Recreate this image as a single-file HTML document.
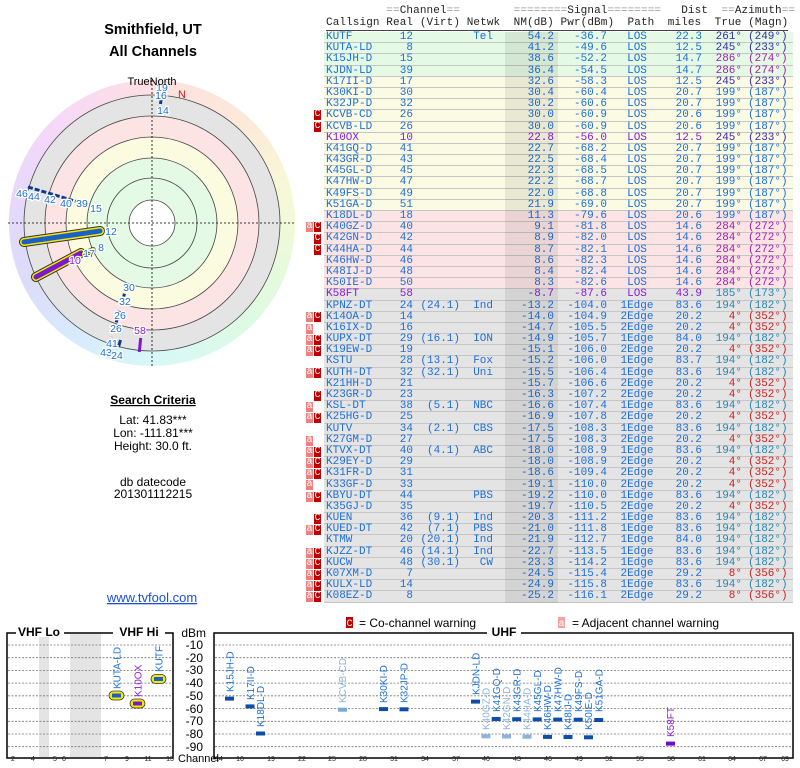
<!DOCTYPE html>
<html><head><meta charset="utf-8"><style>
*{margin:0;padding:0}
body{width:800px;height:768px;position:relative;background:#fff;overflow:hidden;font-family:"Liberation Sans",sans-serif}
#ring{position:absolute;left:9px;top:80px;width:286px;height:286px;border-radius:50%;
background:conic-gradient(#fde0e0 0deg,#fde8da 40deg,#f8f8d8 75deg,#e6fadc 110deg,#dcfae6 145deg,#d8f8f8 180deg,#d8ecfd 210deg,#dcdcfa 245deg,#e6d8fa 280deg,#f4d8fa 310deg,#fadcec 340deg,#fde0e0 360deg)}
svg{position:absolute;left:0;top:0}
.tbl{position:absolute;left:324px;top:32px;width:469px;font-family:"Liberation Mono",monospace;font-size:11px;color:#1c6fd8}
.row{position:relative;height:11.2px;box-sizing:border-box;border-bottom:1px solid #c6c6c6;line-height:10.5px;white-space:pre}
.row span{position:absolute;top:0}
.row span:nth-child(1){left:2px}
.row span:nth-child(2){left:60px;width:29px;text-align:right}
.row span:nth-child(3){left:94px;width:42px;text-align:right}
.row span:nth-child(4){left:140px;width:29px;text-align:right}
.row span:nth-child(5){left:188px;width:42px;text-align:right}
.row span:nth-child(6){left:234px;width:49px;text-align:right}
.row span:nth-child(7){left:295px;width:36px;text-align:center}
.row span:nth-child(8){left:342px;width:36px;text-align:right}
.row span:nth-child(9){left:389px;width:29px;text-align:right}
.row span:nth-child(10){left:424px}
.G{background:#e4fae4}.Y{background:#fbfbe4}.P{background:#fde4e4}.R{background:#e4e4e4}
.pur{color:#8a1ad8}
.db span:nth-child(9),.db span:nth-child(10){color:#3a2aa8}
.mg span:nth-child(9),.mg span:nth-child(10){color:#a020b0}
.tl span:nth-child(9),.tl span:nth-child(10){color:#2a86b0}
.rd span:nth-child(9),.rd span:nth-child(10){color:#d02020}
.hdr{position:absolute;left:326px;font-family:"Liberation Mono",monospace;font-size:11px;white-space:pre;color:#222;letter-spacing:0.1px}
.hdr .q{color:#999}
#shade{position:absolute;left:505px;top:32px;width:53px;height:571px;background:rgba(0,0,0,0.075)}
.mk{position:absolute;width:7px;height:10px;color:#fff;font-family:"Liberation Mono",monospace;font-size:10px;line-height:10px;text-align:center}
.ma{background:#f08080;left:306px}.mc{background:#c00000;left:314px}
</style></head><body>
<div id="ring"></div>
<svg width="800" height="768" font-family="Liberation Sans, sans-serif">
<g stroke="#444" stroke-width="0.8">
<circle cx="152" cy="223" r="128" fill="#e4e4e4"/>
<circle cx="152" cy="223" r="107" fill="#fde4e4"/>
<circle cx="152" cy="223" r="86" fill="#fbfbe0"/>
<circle cx="152" cy="223" r="65" fill="#e4fae4"/>
<circle cx="152" cy="223" r="45" fill="#e4fae4"/>
<circle cx="152" cy="223" r="23" fill="#fff"/>
</g>
<g stroke="#000" stroke-width="0.8" stroke-dasharray="2,2">
<line x1="8" y1="223" x2="296" y2="223"/><line x1="152" y1="80" x2="152" y2="368"/>
</g>
<g stroke-linecap="round">
<line x1="100" y1="231" x2="24" y2="242" stroke="#333" stroke-width="10"/>
<line x1="100" y1="231" x2="24" y2="242" stroke="#f5e800" stroke-width="8"/>
<line x1="100" y1="231" x2="24" y2="242" stroke="#1a60c8" stroke-width="5"/>
<line x1="81" y1="253" x2="36" y2="277" stroke="#333" stroke-width="10"/>
<line x1="81" y1="253" x2="36" y2="277" stroke="#f5e800" stroke-width="8"/>
<line x1="81" y1="253" x2="36" y2="277" stroke="#7a1ad0" stroke-width="5"/>
<line x1="84" y1="254" x2="93" y2="250" stroke="#333" stroke-width="6"/>
<line x1="84" y1="254" x2="93" y2="250" stroke="#f5e800" stroke-width="4.5"/>
<line x1="84" y1="254" x2="93" y2="250" stroke="#1a60c8" stroke-width="2"/>
</g>
<line x1="28" y1="187" x2="78" y2="202" stroke="#0a3a90" stroke-width="3" stroke-dasharray="5,2"/>
<line x1="127" y1="285" x2="112" y2="337" stroke="#0a3a90" stroke-width="3" stroke-dasharray="3,6"/>
<line x1="120.5" y1="340" x2="118.5" y2="347" stroke="#0a3a90" stroke-width="3"/>
<line x1="140.7" y1="338" x2="139.3" y2="352" stroke="#7a1ad0" stroke-width="3"/>
<line x1="161" y1="100" x2="160.5" y2="104" stroke="#0a3a90" stroke-width="3"/>
<g font-size="10.5" fill="#1c6fd8" text-anchor="middle" stroke="#fff" stroke-width="2.5" paint-order="stroke">
<text x="22" y="197">46</text><text x="34" y="200">44</text><text x="50" y="203">42</text><text x="66" y="207">40</text><text x="82" y="207">39</text><text x="96" y="212">15</text>
<text x="111" y="235">12</text><text x="101" y="251">8</text><text x="89" y="257">17</text>
<text x="129" y="291">30</text><text x="125" y="305">32</text><text x="120" y="319">26</text><text x="116" y="332">26</text><text x="112" y="347">41</text><text x="106" y="356">43</text><text x="117" y="359">24</text>
<text x="162" y="91">19</text><text x="161" y="99">16</text><text x="163" y="114">14</text>
<text x="75" y="264" fill="#8a1ad8">10</text><text x="140" y="334" fill="#8a1ad8">58</text>
</g>
<text x="182" y="98" font-size="11" fill="#d02020" text-anchor="middle">N</text>
<text x="153" y="34" font-size="14.5" font-weight="bold" text-anchor="middle">Smithfield, UT</text>
<text x="153" y="56" font-size="14.5" font-weight="bold" text-anchor="middle">All Channels</text>
<text x="152" y="85" font-size="11" text-anchor="middle">TrueNorth</text>
<text x="153" y="404" font-size="12" font-weight="bold" text-anchor="middle" text-decoration="underline">Search Criteria</text>
<text x="153" y="424" font-size="12" text-anchor="middle">Lat: 41.83***</text>
<text x="153" y="437" font-size="12" text-anchor="middle">Lon: -111.81***</text>
<text x="153" y="450" font-size="12" text-anchor="middle">Height: 30.0 ft.</text>
<text x="153" y="486" font-size="12" text-anchor="middle">db datecode</text>
<text x="153" y="498" font-size="12" text-anchor="middle">201301112215</text>
<text x="152" y="602" font-size="13" fill="#1c4fd8" text-anchor="middle" text-decoration="underline">www.tvfool.com</text>
<rect x="39" y="634" width="10" height="123" fill="#e4e4e4"/>
<rect x="70" y="634" width="31" height="123" fill="#e4e4e4"/>
<g stroke="#777" stroke-width="0.8" stroke-dasharray="2,1.5">
<path d="M8 645H172M8 657.7H172M8 670.4H172M8 683.1H172M8 695.8H172M8 708.6H172M8 721.3H172M8 734H172M8 746.7H172"/>
<path d="M215 645H792M215 657.7H792M215 670.4H792M215 683.1H792M215 695.8H792M215 708.6H792M215 721.3H792M215 734H792M215 746.7H792"/>
</g>
<g fill="none" stroke="#000" stroke-width="1.5">
<rect x="7" y="633" width="166" height="125"/>
<rect x="214" y="633" width="579" height="125"/>
</g>
<g font-size="12" font-weight="bold" text-anchor="middle">
<rect x="16" y="625" width="48" height="12" fill="#fff"/><text x="39" y="636">VHF Lo</text>
<rect x="113" y="625" width="52" height="12" fill="#fff"/><text x="139" y="636">VHF Hi</text>
<rect x="487" y="625" width="34" height="12" fill="#fff"/><text x="504" y="636">UHF</text>
</g>
<g font-size="12" text-anchor="end">
<text x="206" y="637">dBm</text>
<text x="203" y="649">-10</text><text x="203" y="662">-20</text><text x="203" y="674">-30</text><text x="203" y="687">-40</text><text x="203" y="700">-50</text><text x="203" y="713">-60</text><text x="203" y="725">-70</text><text x="203" y="738">-80</text><text x="203" y="751">-90</text>
</g>
<text x="178" y="762" font-size="11">Channel</text>
<g font-size="7" text-anchor="middle" fill="#222">
<text x="13" y="761">2</text><text x="33" y="761">4</text><text x="55" y="761">5</text><text x="64" y="761">6</text><text x="106" y="761">7</text><text x="127" y="761">9</text><text x="148" y="761">11</text><text x="170" y="761">13</text>
<text x="219" y="761">14</text><text x="240" y="761">16</text><text x="271" y="761">19</text><text x="302" y="761">22</text><text x="332" y="761">25</text><text x="363" y="761">28</text><text x="394" y="761">31</text><text x="425" y="761">34</text><text x="456" y="761">37</text><text x="486" y="761">40</text><text x="517" y="761">43</text><text x="548" y="761">46</text><text x="579" y="761">49</text><text x="609" y="761">52</text><text x="640" y="761">55</text><text x="671" y="761">58</text><text x="702" y="761">61</text><text x="732" y="761">64</text><text x="763" y="761">67</text><text x="785" y="761">69</text>
</g>
<rect x="346" y="617" width="7" height="11" fill="#c00000"/><text x="349.5" y="626" font-size="10" fill="#fff" text-anchor="middle" font-family="Liberation Mono">C</text>
<text x="359" y="627" font-size="12">= Co-channel warning</text>
<rect x="558" y="617" width="7" height="11" fill="#f4a0a0"/><text x="561.5" y="626" font-size="10" fill="#fff" text-anchor="middle" font-family="Liberation Mono">a</text>
<text x="572" y="627" font-size="12">= Adjacent channel warning</text>
<g stroke="#333" stroke-width="0.8">
<rect x="109" y="691" width="15" height="9" rx="4.5" fill="#f5e800"/><rect x="112" y="693.5" width="9" height="4" fill="#1a60c8" stroke="none"/>
<rect x="130" y="699" width="15" height="9" rx="4.5" fill="#f5e800"/><rect x="133" y="701.5" width="9" height="4" fill="#7a1ad0" stroke="none"/>
<rect x="151" y="674.5" width="15" height="9" rx="4.5" fill="#f5e800"/><rect x="154" y="677" width="9" height="4" fill="#1a60c8" stroke="none"/>
</g>
<g font-size="10" fill="#1c6fd8">
<text transform="translate(120.5,689) rotate(-90)">KUTA-LD</text>
<text transform="translate(141.5,697) rotate(-90)" fill="#8a1ad8">K10OX</text>
<text transform="translate(162.5,672) rotate(-90)">KUTF</text>
</g>
<g fill="#0d4fa8">
<rect x="225" y="696.6" width="9" height="4"/><rect x="245.5" y="704.4" width="9" height="4"/><rect x="256" y="731.5" width="9" height="4"/>
<rect x="338" y="707.7" width="9" height="4" fill="#7aa8d4"/><rect x="379" y="707.1" width="9" height="4"/><rect x="399.5" y="707.3" width="9" height="4"/>
<rect x="471" y="699.6" width="9" height="4"/><rect x="481.5" y="734.3" width="9" height="4" fill="#8ab4dc"/><rect x="491.7" y="717" width="9" height="4"/>
<rect x="502" y="734.5" width="9" height="4" fill="#8ab4dc"/><rect x="512.2" y="717.2" width="9" height="4"/><rect x="522.5" y="734.7" width="9" height="4" fill="#8ab4dc"/>
<rect x="532.7" y="717.4" width="9" height="4"/><rect x="543" y="734.9" width="9" height="4"/><rect x="553.2" y="717.6" width="9" height="4"/>
<rect x="563.5" y="735" width="9" height="4"/><rect x="573.7" y="717.7" width="9" height="4"/><rect x="584" y="735.3" width="9" height="4"/>
<rect x="594.2" y="718" width="9" height="4"/><rect x="666" y="741.6" width="9" height="4" fill="#6a10c8"/>
</g>
<g font-size="10" fill="#1c6fd8">
<text transform="translate(233.3,692) rotate(-90)">K15JH-D</text>
<text transform="translate(253.8,700) rotate(-90)">K17II-D</text>
<text transform="translate(264,727) rotate(-90)">K18DL-D</text>
<text transform="translate(346,703) rotate(-90)" fill="#8ab4dc">KCVB-CD</text>
<text transform="translate(387,703) rotate(-90)">K30KI-D</text>
<text transform="translate(407.5,703) rotate(-90)">K32JP-D</text>
<text transform="translate(479.3,695) rotate(-90)">KJDN-LD</text>
<text transform="translate(489.5,730) rotate(-90)" fill="#8ab4dc">K40GZ-D</text>
<text transform="translate(499.8,712) rotate(-90)">K41GQ-D</text>
<text transform="translate(510,730) rotate(-90)" fill="#8ab4dc">K42GN-D</text>
<text transform="translate(520.3,712) rotate(-90)">K43GR-D</text>
<text transform="translate(530.5,730) rotate(-90)" fill="#8ab4dc">K44HA-D</text>
<text transform="translate(540.8,712) rotate(-90)">K45GL-D</text>
<text transform="translate(551,730) rotate(-90)">K46HW-D</text>
<text transform="translate(561.3,712) rotate(-90)">K47HW-D</text>
<text transform="translate(571.5,730) rotate(-90)">K48IJ-D</text>
<text transform="translate(581.8,712) rotate(-90)">K49FS-D</text>
<text transform="translate(592,730) rotate(-90)">K50IE-D</text>
<text transform="translate(602.3,712) rotate(-90)">K51GA-D</text>
<text transform="translate(674,737) rotate(-90)" fill="#8a1ad8">K58FT</text>
</g>
</svg>

<div class="hdr" style="top:5px"><span class="q">         ==</span>Channel<span class="q">==        ========</span>Signal<span class="q">========</span>   Dist  <span class="q">==</span>Azimuth<span class="q">==</span></div>
<div class="hdr" style="top:17px;border-bottom:1px solid #444;padding-bottom:1px">Callsign Real (Virt) Netwk  NM(dB) Pwr(dBm)  Path  miles  True (Magn)</div>

<div class="tbl">
<div class="row G db"><span>KUTF</span><span>12</span><span></span><span>Tel</span><span>54.2</span><span>-36.7</span><span>LOS</span><span>22.3</span><span>261°</span><span>(249°)</span></div>
<div class="row G db"><span>KUTA-LD</span><span>8</span><span></span><span></span><span>41.2</span><span>-49.6</span><span>LOS</span><span>12.5</span><span>245°</span><span>(233°)</span></div>
<div class="row G mg"><span>K15JH-D</span><span>15</span><span></span><span></span><span>38.6</span><span>-52.2</span><span>LOS</span><span>14.7</span><span>286°</span><span>(274°)</span></div>
<div class="row G mg"><span>KJDN-LD</span><span>39</span><span></span><span></span><span>36.4</span><span>-54.5</span><span>LOS</span><span>14.7</span><span>286°</span><span>(274°)</span></div>
<div class="row Y db"><span>K17II-D</span><span>17</span><span></span><span></span><span>32.6</span><span>-58.3</span><span>LOS</span><span>12.5</span><span>245°</span><span>(233°)</span></div>
<div class="row Y"><span>K30KI-D</span><span>30</span><span></span><span></span><span>30.4</span><span>-60.4</span><span>LOS</span><span>20.7</span><span>199°</span><span>(187°)</span></div>
<div class="row Y"><span>K32JP-D</span><span>32</span><span></span><span></span><span>30.2</span><span>-60.6</span><span>LOS</span><span>20.7</span><span>199°</span><span>(187°)</span></div>
<div class="row Y"><span>KCVB-CD</span><span>26</span><span></span><span></span><span>30.0</span><span>-60.9</span><span>LOS</span><span>20.6</span><span>199°</span><span>(187°)</span></div>
<div class="row Y"><span>KCVB-LD</span><span>26</span><span></span><span></span><span>30.0</span><span>-60.9</span><span>LOS</span><span>20.6</span><span>199°</span><span>(187°)</span></div>
<div class="row Y db pur"><span>K10OX</span><span>10</span><span></span><span></span><span>22.8</span><span>-56.0</span><span>LOS</span><span>12.5</span><span>245°</span><span>(233°)</span></div>
<div class="row Y"><span>K41GQ-D</span><span>41</span><span></span><span></span><span>22.7</span><span>-68.2</span><span>LOS</span><span>20.7</span><span>199°</span><span>(187°)</span></div>
<div class="row Y"><span>K43GR-D</span><span>43</span><span></span><span></span><span>22.5</span><span>-68.4</span><span>LOS</span><span>20.7</span><span>199°</span><span>(187°)</span></div>
<div class="row Y"><span>K45GL-D</span><span>45</span><span></span><span></span><span>22.3</span><span>-68.5</span><span>LOS</span><span>20.7</span><span>199°</span><span>(187°)</span></div>
<div class="row Y"><span>K47HW-D</span><span>47</span><span></span><span></span><span>22.2</span><span>-68.7</span><span>LOS</span><span>20.7</span><span>199°</span><span>(187°)</span></div>
<div class="row Y"><span>K49FS-D</span><span>49</span><span></span><span></span><span>22.0</span><span>-68.8</span><span>LOS</span><span>20.7</span><span>199°</span><span>(187°)</span></div>
<div class="row Y"><span>K51GA-D</span><span>51</span><span></span><span></span><span>21.9</span><span>-69.0</span><span>LOS</span><span>20.7</span><span>199°</span><span>(187°)</span></div>
<div class="row P"><span>K18DL-D</span><span>18</span><span></span><span></span><span>11.3</span><span>-79.6</span><span>LOS</span><span>20.6</span><span>199°</span><span>(187°)</span></div>
<div class="row P mg"><span>K40GZ-D</span><span>40</span><span></span><span></span><span>9.1</span><span>-81.8</span><span>LOS</span><span>14.6</span><span>284°</span><span>(272°)</span></div>
<div class="row P mg"><span>K42GN-D</span><span>42</span><span></span><span></span><span>8.9</span><span>-82.0</span><span>LOS</span><span>14.6</span><span>284°</span><span>(272°)</span></div>
<div class="row P mg"><span>K44HA-D</span><span>44</span><span></span><span></span><span>8.7</span><span>-82.1</span><span>LOS</span><span>14.6</span><span>284°</span><span>(272°)</span></div>
<div class="row P mg"><span>K46HW-D</span><span>46</span><span></span><span></span><span>8.6</span><span>-82.3</span><span>LOS</span><span>14.6</span><span>284°</span><span>(272°)</span></div>
<div class="row P mg"><span>K48IJ-D</span><span>48</span><span></span><span></span><span>8.4</span><span>-82.4</span><span>LOS</span><span>14.6</span><span>284°</span><span>(272°)</span></div>
<div class="row P mg"><span>K50IE-D</span><span>50</span><span></span><span></span><span>8.3</span><span>-82.6</span><span>LOS</span><span>14.6</span><span>284°</span><span>(272°)</span></div>
<div class="row R tl pur"><span>K58FT</span><span>58</span><span></span><span></span><span>-8.7</span><span>-87.6</span><span>LOS</span><span>43.9</span><span>185°</span><span>(173°)</span></div>
<div class="row R tl"><span>KPNZ-DT</span><span>24</span><span>(24.1)</span><span>Ind</span><span>-13.2</span><span>-104.0</span><span>1Edge</span><span>83.6</span><span>194°</span><span>(182°)</span></div>
<div class="row R rd"><span>K14OA-D</span><span>14</span><span></span><span></span><span>-14.0</span><span>-104.9</span><span>2Edge</span><span>20.2</span><span>4°</span><span>(352°)</span></div>
<div class="row R rd"><span>K16IX-D</span><span>16</span><span></span><span></span><span>-14.7</span><span>-105.5</span><span>2Edge</span><span>20.2</span><span>4°</span><span>(352°)</span></div>
<div class="row R tl"><span>KUPX-DT</span><span>29</span><span>(16.1)</span><span>ION</span><span>-14.9</span><span>-105.7</span><span>1Edge</span><span>84.0</span><span>194°</span><span>(182°)</span></div>
<div class="row R rd"><span>K19EW-D</span><span>19</span><span></span><span></span><span>-15.1</span><span>-106.0</span><span>2Edge</span><span>20.2</span><span>4°</span><span>(352°)</span></div>
<div class="row R tl"><span>KSTU</span><span>28</span><span>(13.1)</span><span>Fox</span><span>-15.2</span><span>-106.0</span><span>1Edge</span><span>83.7</span><span>194°</span><span>(182°)</span></div>
<div class="row R tl"><span>KUTH-DT</span><span>32</span><span>(32.1)</span><span>Uni</span><span>-15.5</span><span>-106.4</span><span>1Edge</span><span>83.6</span><span>194°</span><span>(182°)</span></div>
<div class="row R rd"><span>K21HH-D</span><span>21</span><span></span><span></span><span>-15.7</span><span>-106.6</span><span>2Edge</span><span>20.2</span><span>4°</span><span>(352°)</span></div>
<div class="row R rd"><span>K23GR-D</span><span>23</span><span></span><span></span><span>-16.3</span><span>-107.2</span><span>2Edge</span><span>20.2</span><span>4°</span><span>(352°)</span></div>
<div class="row R tl"><span>KSL-DT</span><span>38</span><span>(5.1)</span><span>NBC</span><span>-16.6</span><span>-107.4</span><span>1Edge</span><span>83.6</span><span>194°</span><span>(182°)</span></div>
<div class="row R rd"><span>K25HG-D</span><span>25</span><span></span><span></span><span>-16.9</span><span>-107.8</span><span>2Edge</span><span>20.2</span><span>4°</span><span>(352°)</span></div>
<div class="row R tl"><span>KUTV</span><span>34</span><span>(2.1)</span><span>CBS</span><span>-17.5</span><span>-108.3</span><span>1Edge</span><span>83.6</span><span>194°</span><span>(182°)</span></div>
<div class="row R rd"><span>K27GM-D</span><span>27</span><span></span><span></span><span>-17.5</span><span>-108.3</span><span>2Edge</span><span>20.2</span><span>4°</span><span>(352°)</span></div>
<div class="row R tl"><span>KTVX-DT</span><span>40</span><span>(4.1)</span><span>ABC</span><span>-18.0</span><span>-108.9</span><span>1Edge</span><span>83.6</span><span>194°</span><span>(182°)</span></div>
<div class="row R rd"><span>K29EY-D</span><span>29</span><span></span><span></span><span>-18.0</span><span>-108.9</span><span>2Edge</span><span>20.2</span><span>4°</span><span>(352°)</span></div>
<div class="row R rd"><span>K31FR-D</span><span>31</span><span></span><span></span><span>-18.6</span><span>-109.4</span><span>2Edge</span><span>20.2</span><span>4°</span><span>(352°)</span></div>
<div class="row R rd"><span>K33GF-D</span><span>33</span><span></span><span></span><span>-19.1</span><span>-110.0</span><span>2Edge</span><span>20.2</span><span>4°</span><span>(352°)</span></div>
<div class="row R tl"><span>KBYU-DT</span><span>44</span><span></span><span>PBS</span><span>-19.2</span><span>-110.0</span><span>1Edge</span><span>83.6</span><span>194°</span><span>(182°)</span></div>
<div class="row R rd"><span>K35GJ-D</span><span>35</span><span></span><span></span><span>-19.7</span><span>-110.5</span><span>2Edge</span><span>20.2</span><span>4°</span><span>(352°)</span></div>
<div class="row R tl"><span>KUEN</span><span>36</span><span>(9.1)</span><span>Ind</span><span>-20.3</span><span>-111.2</span><span>1Edge</span><span>83.6</span><span>194°</span><span>(182°)</span></div>
<div class="row R tl"><span>KUED-DT</span><span>42</span><span>(7.1)</span><span>PBS</span><span>-21.0</span><span>-111.8</span><span>1Edge</span><span>83.6</span><span>194°</span><span>(182°)</span></div>
<div class="row R tl"><span>KTMW</span><span>20</span><span>(20.1)</span><span>Ind</span><span>-21.9</span><span>-112.7</span><span>1Edge</span><span>84.0</span><span>194°</span><span>(182°)</span></div>
<div class="row R tl"><span>KJZZ-DT</span><span>46</span><span>(14.1)</span><span>Ind</span><span>-22.7</span><span>-113.5</span><span>1Edge</span><span>83.6</span><span>194°</span><span>(182°)</span></div>
<div class="row R tl"><span>KUCW</span><span>48</span><span>(30.1)</span><span>CW</span><span>-23.3</span><span>-114.2</span><span>1Edge</span><span>83.6</span><span>194°</span><span>(182°)</span></div>
<div class="row R rd"><span>K07XM-D</span><span>7</span><span></span><span></span><span>-24.5</span><span>-115.4</span><span>2Edge</span><span>29.2</span><span>8°</span><span>(356°)</span></div>
<div class="row R tl"><span>KULX-LD</span><span>14</span><span></span><span></span><span>-24.9</span><span>-115.8</span><span>1Edge</span><span>83.6</span><span>194°</span><span>(182°)</span></div>
<div class="row R rd"><span>K08EZ-D</span><span>8</span><span></span><span></span><span>-25.2</span><span>-116.1</span><span>2Edge</span><span>29.2</span><span>8°</span><span>(356°)</span></div>
</div>
<div id="shade"></div>

<div class="mk mc" style="top:110.4px">C</div>
<div class="mk mc" style="top:121.6px">C</div>
<div class="mk ma" style="top:222.4px">a</div><div class="mk mc" style="top:222.4px">C</div>
<div class="mk mc" style="top:233.6px">C</div>
<div class="mk mc" style="top:244.8px">C</div>
<div class="mk ma" style="top:312.4px">a</div><div class="mk mc" style="top:312.4px">C</div>
<div class="mk ma" style="top:323.6px">a</div>
<div class="mk ma" style="top:334.8px">a</div><div class="mk mc" style="top:334.8px">C</div>
<div class="mk ma" style="top:346px">a</div><div class="mk mc" style="top:346px">C</div>
<div class="mk ma" style="top:368.4px">a</div><div class="mk mc" style="top:368.4px">C</div>
<div class="mk mc" style="top:390.8px">C</div>
<div class="mk ma" style="top:402px">a</div>
<div class="mk ma" style="top:413.2px">a</div><div class="mk mc" style="top:413.2px">C</div>
<div class="mk ma" style="top:435.6px">a</div>
<div class="mk ma" style="top:446.8px">a</div><div class="mk mc" style="top:446.8px">C</div>
<div class="mk ma" style="top:458px">a</div><div class="mk mc" style="top:458px">C</div>
<div class="mk ma" style="top:469.2px">a</div><div class="mk mc" style="top:469.2px">C</div>
<div class="mk ma" style="top:480.4px">a</div>
<div class="mk ma" style="top:491.6px">a</div><div class="mk mc" style="top:491.6px">C</div>
<div class="mk mc" style="top:514px">C</div>
<div class="mk ma" style="top:525.2px">a</div><div class="mk mc" style="top:525.2px">C</div>
<div class="mk ma" style="top:547.6px">a</div><div class="mk mc" style="top:547.6px">C</div>
<div class="mk ma" style="top:558.8px">a</div><div class="mk mc" style="top:558.8px">C</div>
<div class="mk ma" style="top:570px">a</div><div class="mk mc" style="top:570px">C</div>
<div class="mk ma" style="top:581.2px">a</div><div class="mk mc" style="top:581.2px">C</div>
<div class="mk ma" style="top:592.4px">a</div><div class="mk mc" style="top:592.4px">C</div>
</body></html>
